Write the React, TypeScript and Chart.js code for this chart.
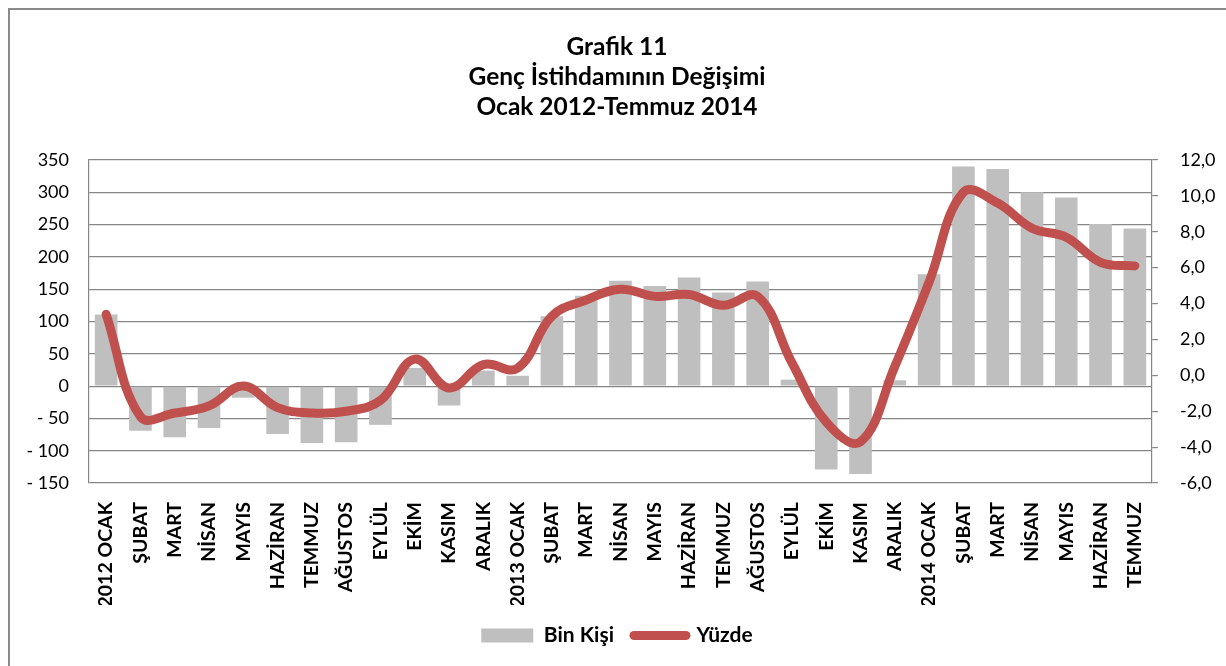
import React, { useEffect, useRef } from "react";
import { Chart, registerables } from "chart.js";

Chart.register(...registerables);

const categories = [
  "2012 OCAK", "ŞUBAT", "MART", "NİSAN", "MAYIS", "HAZİRAN", "TEMMUZ", "AĞUSTOS", "EYLÜL", "EKİM", "KASIM", "ARALIK",
  "2013 OCAK", "ŞUBAT", "MART", "NİSAN", "MAYIS", "HAZİRAN", "TEMMUZ", "AĞUSTOS", "EYLÜL", "EKİM", "KASIM", "ARALIK",
  "2014 OCAK", "ŞUBAT", "MART", "NİSAN", "MAYIS", "HAZİRAN", "TEMMUZ",
];

const binKisi = [
  111, -69, -79, -65, -18, -74, -88, -87, -60, 28, -30, 24,
  16, 108, 140, 163, 155, 168, 145, 162, 10, -129, -136, 9,
  173, 340, 336, 300, 292, 251, 244,
];

const yuzde = [
  3.4, -2.3, -2.1, -1.7, -0.6, -1.8, -2.1, -2.0, -1.4, 0.9, -0.7, 0.6,
  0.4, 3.3, 4.2, 4.8, 4.4, 4.5, 3.9, 4.4, 0.7, -2.6, -3.7, 0.5,
  5.2, 10.2, 9.6, 8.2, 7.7, 6.3, 6.1,
];

const titleLines = ["Grafik 11", "Genç İstihdamının Değişimi", "Ocak 2012-Temmuz 2014"];
const seriesNames = ["Bin Kişi", "Yüzde"];

const BAR_COLOR = "#bfbfbf";
const LINE_COLOR = "#c0504d";
const GRID_COLOR = "#868686";
const FONT = "Lato";

export default function App() {
  const ref = useRef<HTMLCanvasElement | null>(null);

  useEffect(() => {
    if (!ref.current) return;
    const chart = new Chart(ref.current, {
      type: "bar",
      data: {
        labels: categories,
        datasets: [
          {
            type: "line",
            label: seriesNames[1],
            data: yuzde,
            yAxisID: "y1",
            borderColor: LINE_COLOR,
            backgroundColor: LINE_COLOR,
            borderWidth: 9,
            pointRadius: 0,
            tension: 0.4,
            borderCapStyle: "round",
            borderJoinStyle: "round",
            fill: false,
            order: 0,
          } as any,
          {
            type: "bar",
            label: seriesNames[0],
            data: binKisi,
            yAxisID: "y",
            backgroundColor: BAR_COLOR,
            barPercentage: 0.66,
            categoryPercentage: 1,
            order: 1,
          } as any,
        ],
      },
      options: {
        responsive: false,
        animation: false,
        devicePixelRatio: 1,
        layout: { padding: 0 },
        scales: {
          x: {
            grid: { display: false },
            border: { display: false },
            ticks: {
              autoSkip: false,
              maxRotation: 90,
              minRotation: 90,
              padding: 11,
              color: "#000",
              font: { family: FONT, size: 19.5, weight: "bold" },
            },
            afterFit: (s: any) => {
              s.height = 122;
            },
          },
          y: {
            position: "left",
            min: -150,
            max: 350,
            ticks: {
              stepSize: 50,
              padding: 20,
              color: "#000",
              font: { family: FONT, size: 18 },
              callback: (v: any) => (Number(v) < 0 ? "- " + Math.abs(Number(v)) : String(v)),
            },
            grid: { color: GRID_COLOR, lineWidth: 1.2, drawTicks: false },
            border: { display: true, color: GRID_COLOR, width: 1.2 },
            afterFit: (s: any) => {
              s.width = 79;
            },
          },
          y1: {
            position: "right",
            min: -6,
            max: 12,
            ticks: {
              stepSize: 2,
              padding: 22,
              color: "#000",
              font: { family: FONT, size: 18 },
              callback: (v: any) => Number(v).toFixed(1).replace(".", ","),
            },
            grid: { drawOnChartArea: false, drawTicks: true, tickLength: 6, color: GRID_COLOR, lineWidth: 1.2 },
            border: { display: true, color: GRID_COLOR, width: 1.2 },
            afterFit: (s: any) => {
              s.width = 72;
            },
          },
        },
        plugins: {
          tooltip: { enabled: false },
          title: {
            display: true,
            text: titleLines,
            color: "#000",
            font: { family: FONT, size: 24.5, weight: "bold", lineHeight: "30px" } as any,
            padding: { top: 22, bottom: 38 },
          },
          legend: {
            position: "bottom",
            labels: {
              usePointStyle: true,
              pointStyleWidth: 52,
              boxHeight: 14,
              padding: 20,
              color: "#000",
              font: { family: FONT, size: 21, weight: "bold" },
              generateLabels: () => [
                {
                  text: seriesNames[0],
                  fillStyle: BAR_COLOR,
                  strokeStyle: BAR_COLOR,
                  lineWidth: 0,
                  pointStyle: "rect",
                  fontColor: "#000",
                  datasetIndex: 1,
                  hidden: false,
                } as any,
                {
                  text: seriesNames[1],
                  fillStyle: LINE_COLOR,
                  strokeStyle: LINE_COLOR,
                  lineWidth: 9,
                  lineCap: "round",
                  pointStyle: "line",
                  fontColor: "#000",
                  datasetIndex: 0,
                  hidden: false,
                } as any,
              ],
            },
          },
        },
      },
    });
    return () => chart.destroy();
  }, []);

  return (
    <div
      style={{
        position: "fixed",
        left: 8,
        top: 8,
        width: 1250,
        height: 700,
        borderTop: "2px solid #8a8a8a",
        borderLeft: "2px solid #8a8a8a",
        background: "#fff",
      }}
    >
      <canvas ref={ref} width={1214} height={646} style={{ display: "block", width: 1214, height: 646 }} />
    </div>
  );
}
